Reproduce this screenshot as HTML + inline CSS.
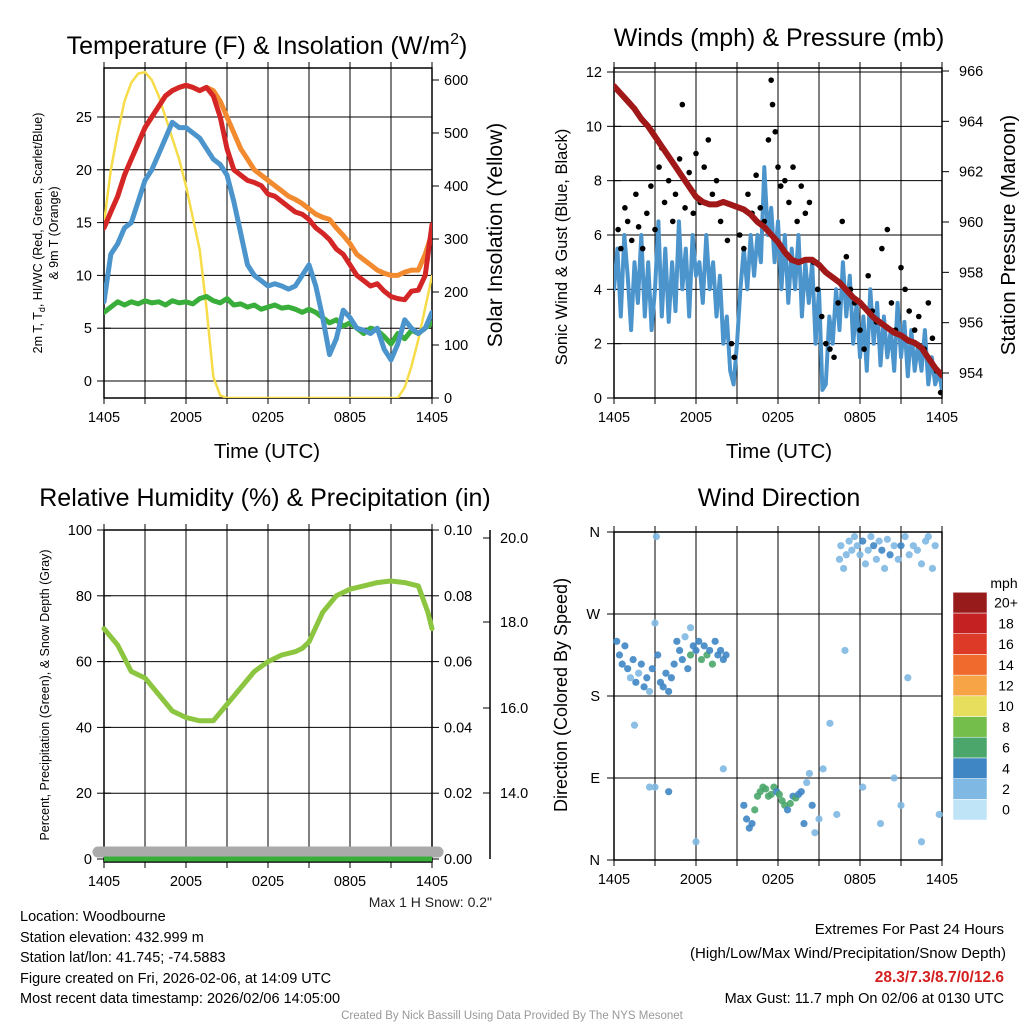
<!DOCTYPE html>
<html><head><meta charset="utf-8"><style>
html,body{margin:0;padding:0;background:#fff}
svg{display:block;font-family:"Liberation Sans",sans-serif}
</style></head><body>
<svg id="root" width="1024" height="1024" viewBox="0 0 1024 1024" xmlns="http://www.w3.org/2000/svg">
<rect width="1024" height="1024" fill="#fff"/>
<g id="g1"></g>
<g id="g2"></g>
<g id="g3"></g>
<g id="g4"></g>
<g font-size="25" text-anchor="middle" fill="#000">
<text x="267" y="54">Temperature (F) &amp; Insolation (W/m<tspan dy="-10" font-size="16">2</tspan><tspan dy="10">)</tspan></text>
<text x="779" y="46">Winds (mph) &amp; Pressure (mb)</text>
<text x="265" y="506">Relative Humidity (%) &amp; Precipitation (in)</text>
<text x="779" y="506">Wind Direction</text>
</g>
<g fill="#000">
<text x="267" y="458" font-size="20.5" text-anchor="middle">Time (UTC)</text>
<text x="779" y="458" font-size="20.5" text-anchor="middle">Time (UTC)</text>
<text transform="translate(42,233) rotate(-90)" font-size="12.5" text-anchor="middle">2m T, T<tspan dy="3" font-size="9">d</tspan><tspan dy="-3">, HI/WC (Red, Green, Scarlet/Blue)</tspan></text>
<text transform="translate(58,233) rotate(-90)" font-size="12.5" text-anchor="middle">&amp; 9m T (Orange)</text>
<text transform="translate(502,235) rotate(-90)" font-size="21" text-anchor="middle">Solar Insolation (Yellow)</text>
<text transform="translate(567,247) rotate(-90)" font-size="16.5" text-anchor="middle">Sonic Wind &amp; Gust (Blue, Black)</text>
<text transform="translate(1015,235) rotate(-90)" font-size="20.5" text-anchor="middle">Station Pressure (Maroon)</text>
<text transform="translate(49,695) rotate(-90)" font-size="12.5" text-anchor="middle">Percent, Precipitation (Green), &amp; Snow Depth (Gray)</text>
<text transform="translate(567,695) rotate(-90)" font-size="18" text-anchor="middle">Direction (Colored By Speed)</text>
<text x="492" y="907" font-size="14" text-anchor="end" fill="#222">Max 1 H Snow: 0.2"</text>
</g>
<g font-size="14.5" fill="#000">
<text x="20" y="921">Location: Woodbourne</text>
<text x="20" y="942">Station elevation: 432.999 m</text>
<text x="20" y="962">Station lat/lon: 41.745; -74.5883</text>
<text x="20" y="983">Figure created on Fri, 2026-02-06, at 14:09 UTC</text>
<text x="20" y="1003">Most recent data timestamp: 2026/02/06 14:05:00</text>
</g>
<g font-size="15" fill="#000" text-anchor="end">
<text x="1004" y="934">Extremes For Past 24 Hours</text>
<text x="1006" y="958">(High/Low/Max Wind/Precipitation/Snow Depth)</text>
<text x="1004" y="982" font-weight="bold" fill="#d42020" font-size="15.5">28.3/7.3/8.7/0/12.6</text>
<text x="1004" y="1003" font-size="14.5">Max Gust: 11.7 mph On 02/06 at 0130 UTC</text>
</g>
<text x="512" y="1019" font-size="11.5" fill="#999" text-anchor="middle">Created By Nick Bassill Using Data Provided By The NYS Mesonet</text>
</svg>
<script>
// ---------- data ----------
const timeTicks = ["1405","2005","0205","0805","1405"];
const tempHours = Array.from({length:49},(_,i)=>i*0.5);
const temp2m = [14.5,16,17.5,19.5,21,22.5,24,25,26,27,27.5,27.8,28,27.8,27.5,27.8,27,25,22,20,19.5,19,18.8,18.5,17.7,17.5,17,16.5,16,15.8,15.3,14.5,14,13.4,12.5,12,11,10,9.5,9,9.2,8.5,8,7.8,7.7,8.5,8.6,10,14.8];
const temp9m = [14.5,16,17.5,19.5,21,22.5,24,25,26,27,27.5,27.8,28,27.8,27.5,27.8,27.5,26.5,25,23.5,22,21,20,19.5,19,18.5,18,17.5,17.2,16.8,16.3,15.8,15.5,15.3,14.5,13.8,13,12,11.5,11,10.5,10.2,10,10,10.3,10.5,10.5,12,14];
const windChill = [7.5,12,13,14.5,15,17,19,20,21.5,23,24.5,24,24,23.5,23,22,21,20.5,19.5,17,14,11,10,9.5,9,9.2,9,8.7,9,10,11,9,6,2.5,4,6.7,6,5,4.8,4.5,5,3,2,3.5,5.8,5,4.5,5,6.5];
const dewPoint = [6.5,7,7.5,7.2,7.5,7.3,7.6,7.4,7.5,7.2,7.6,7.4,7.5,7.3,7.8,8,7.6,7.4,7.8,7.2,7.3,7,7.2,6.8,7,7.2,6.9,7,6.8,6.5,6.8,6.5,6,5.5,5.8,5.2,5.5,5,4.5,5,4.8,4.2,3.5,4.5,4,4.8,4.5,5,5.5];
const solar = [330,430,500,560,595,612,615,600,570,530,490,450,400,340,280,170,40,5,0,0,0,0,0,0,0,0,0,0,0,0,0,0,0,0,0,0,0,0,0,0,0,0,0,0,20,60,110,170,230];
const tempTicks = [0,5,10,15,20,25];
const solarTicks = [0,100,200,300,400,500,600];

const pressure = [965.4,965.1,964.8,964.5,964.1,963.8,963.4,963,962.6,962.2,961.8,961.4,961,960.8,960.7,960.7,960.8,960.7,960.6,960.5,960.3,960,959.8,959.5,959.2,958.8,958.5,958.4,958.5,958.5,958.3,958,957.8,957.6,957.3,957,956.8,956.5,956.2,956,955.8,955.6,955.5,955.3,955.2,955,954.6,954.2,953.9];
const windHours = Array.from({length:97},(_,i)=>i*0.25);
const windSpeed = [4,5.5,3,6,4.5,2.5,5,3.5,6, 3,5,2.5,4,6.5,3,5.5,2.8, 5,3.2,6.5,4,5.5,3,6,4.5, 5,3.5,6,4,5,3,4.5,2, 3,1,0.5,2,4,5.5,4,6, 4.5,6,5,8.5,6,7,5,6.5, 4,6,3.5,5.5,4,6,3,5, 3.5,5,2,4,0.3,0.5,3,2, 4,2.5,5,3,4.5,2,3.5,1.5, 3,1,4,2,3.5,1.2,3,1.5, 2.5,1,3.5,1.5,2.8,0.8,2.5,1, 2,1,2.5,0.5,1.5,0.5,1,0.3];
const gustHours = [0.3,0.5,0.8,1,1.3,1.6,1.8,2.1,2.4,2.7,3,3.3,3.5,3.7,4,4.3,4.5,4.8,5,5.2,5.5,5.8,6,6.3,6.6,6.9,7.2,7.5,7.8,8,8.3,8.6,8.8,9.2,9.5,9.8,10.1,10.4,10.7,11,11.3,11.5,11.6,11.8,12,12.2,12.5,12.8,13.1,13.4,13.7,14,14.3,14.6,14.9,15.2,15.5,15.8,16.1,16.4,16.7,17,17.3,17.6,18,18.3,18.6,18.9,19.2,19.6,20,20.3,20.6,21,21.3,21.6,22,22.3,22.7,23,23.3,23.6,23.9];
const gustValues = [6.2,5.5,7,6.5,5.8,7.5,6.3,5.5,6.8,7.8,6.2,8.5,9.2,7.2,8,6.5,7.5,8.8,10.8,7,8.3,6.8,9,7.2,8.5,9.5,7.5,8,6.5,7.2,5.8,2,1.5,6,5.5,7.5,6.8,8.2,7,6.5,9.5,11.7,10.8,9.8,8.5,7.8,8,7.2,8.5,6.5,7.8,6.8,7.2,5,4,3,2,1.8,1.5,3.5,6.5,5.2,4,3.5,2.5,1.8,4.5,3.2,2.8,5.5,6.2,3.5,2.5,4.8,4,3.2,2.5,3,1.8,3.5,2.2,1,0.2];
const windTicks = [0,2,4,6,8,10,12];
const pressTicks = [954,956,958,960,962,964,966];

const rh = [70,65,57,55,50,45,43,42,42,47,52,57,60,62,63,64,66,75,80,82,83,84,84.5,84,83,75,70];
const rhHours = [0,1,2,3,4,5,6,7,8,9,10,11,12,13,14,14.5,15,16,17,18,19,20,21,22,23,23.7,24];
const rhTicks = [0,20,40,60,80,100];
const precipTicks = ["0.00","0.02","0.04","0.06","0.08","0.10"];
const snowTicks = ["14.0","16.0","18.0","20.0"];

const dirHours = [0.2,0.4,0.6,0.8,1,1.2,1.4,1.6,1.8,2,2.2,2.4,2.6,2.8,3,3.2,3.4,3.6,3.8,4,4.2,4.4,4.6,4.8,5,5.2,5.4,5.6,5.8,6,6.2,6.4,6.6,6.8,7,7.2,7.4,7.6,7.8,8,8.2,3.1,2.6,4,6,3,1.5,5.6,8,9.5,9.7,9.9,10.1,10.3,10.5,10.7,10.9,11.1,11.3,11.5,11.7,11.9,12.1,12.3,12.5,12.7,12.9,13.1,13.3,13.5,13.7,13.9,14.1,14.3,14.5,14.7,15,15.3,15.8,16.3,16.5,16.6,16.8,17,17.2,17.4,17.6,17.8,18,18.2,18.4,18.6,18.8,19,19.2,19.4,19.6,19.8,20,20.2,20.5,20.8,21,21.3,21.6,21.9,22.2,22.5,22.8,23,23.3,23.5,19.5,21,22.5,23.8,16.9,21.5,18.2,20.5];
const dirDegrees = [240,225,215,235,210,200,220,195,205,215,190,200,185,210,260,225,195,190,205,185,200,215,240,230,220,245,210,225,235,230,240,220,235,225,230,215,240,225,230,220,225,355,80,75,20,80,148,255,100,60,45,35,40,55,70,75,80,78,70,72,80,75,72,65,60,55,62,70,68,72,75,40,85,95,60,30,45,100,150,50,330,345,320,335,350,340,355,345,335,350,325,340,355,345,330,350,340,320,352,335,345,330,345,355,335,345,340,325,350,355,320,345,40,60,20,50,230,200,80,90];
const dirSpeeds = [4,4,3,4,3,2,4,3,2,3,4,3,2,4,2,3,4,4,3,3,4,4,3,4,4,2,4,5,4,3,4,6,4,6,4,5,3,4,4,3,4,1,2,3,2,2,1,2,2,3,4,3,4,5,6,6,5,6,5,6,5,4,5,6,5,4,5,4,5,4,4,3,2,2,3,2,2,2,1,1,2,1,1,2,1,2,1,2,2,3,2,2,2,3,2,2,3,2,2,3,2,2,3,2,2,2,2,1,2,1,1,2,1,2,1,1,1,1,2,2];
const dirLabels = ["N","E","S","W","N"];
const speedLabels = ["0","2","4","6","8","10","12","14","16","18","20+"];
const speedColors = ["#bfe4f7","#7fb8e2","#3f86c4","#4aa66a","#74bf4c","#e6de5c","#f7a446","#ef6a2c","#de3a28","#c42222","#981b1c"];

// ---------- helpers ----------
const NS="http://www.w3.org/2000/svg";
function mk(parent,tag,attrs,text){const e=document.createElementNS(NS,tag);for(const k in attrs)e.setAttribute(k,attrs[k]);if(text!==undefined)e.textContent=text;parent.appendChild(e);return e;}
function lin(d0,d1,r0,r1){return v=>r0+(v-d0)*(r1-r0)/(d1-d0);}
function frame(g,x0,x1,y0,y1,name){
  for(let i=0;i<=8;i++){const x=x0+i*(x1-x0)/8;
    const l=mk(g,'line',{x1:x,x2:x,y1:y0-6,y2:y1+6,stroke:'#000','stroke-width':1});
    
    }
  timeTicks.forEach((t,i)=>{const x=x0+i*(x1-x0)/4;
    const tx=mk(g,'text',{x:x,y:y1+24,'font-size':14.5,'text-anchor':'middle'},t);
    
    });
  const r=mk(g,'rect',{x:x0,y:y0,width:x1-x0,height:y1-y0,fill:'none',stroke:'#000','stroke-width':1.5});
  
  
}
function hgrid(g,x0,x1,y,name){const l=mk(g,'line',{x1:x0-7,x2:x1+7,y1:y,y2:y,stroke:'#000','stroke-width':1});
  
  }
function ylab(g,x,y,t,anchor,name){const e=mk(g,'text',{x:x,y:y+5,'font-size':14.5,'text-anchor':anchor},t);
  
  }
function path(g,xs,ys,xf,yf,color,w,name){
  const d=xs.map((h,i)=>(i?'L':'M')+xf(h).toFixed(1)+','+yf(ys[i]).toFixed(1)).join('');
  const p=mk(g,'path',{d:d,fill:'none',stroke:color,'stroke-width':w,'stroke-linejoin':'round','stroke-linecap':'round'});
  
  }

// ---------- panel 1 ----------
(function(){const g=document.getElementById('g1');const X0=104,X1=432,Y0=68,Y1=398;
 const x=lin(0,24,X0,X1), yT=lin(0,25,381,117), yS=lin(0,600,398,80);
 tempTicks.forEach(v=>{hgrid(g,X0,X0,yT(v),'temp-tick');const l=mk(g,'line',{x1:X0,x2:X1,y1:yT(v),y2:yT(v),stroke:'#000'});ylab(g,X0-12,yT(v),String(v),'end','temp-tick-label');});
 solarTicks.forEach(v=>{const l=mk(g,'line',{x1:X1,x2:X1+7,y1:yS(v),y2:yS(v),stroke:'#000'});ylab(g,X1+12,yS(v),String(v),'start','solar-tick-label');});
 frame(g,X0,X1,Y0,Y1,'temperature');
 const cp=mk(g,'clipPath',{id:'c1'});mk(cp,'rect',{x:X0,y:Y0,width:X1-X0,height:Y1-Y0});
 const gg=mk(g,'g',{'clip-path':'url(#c1)'});
 path(gg,tempHours,solar,x,yS,'#f7dc4a',2.5,'solar-line');
 path(gg,tempHours,dewPoint,x,yT,'#3aae3a',5,'dewpoint-line');
 path(gg,tempHours,windChill,x,yT,'#4b94cc',5,'windchill-line');
 path(gg,tempHours,temp9m,x,yT,'#f28a30',5,'temp-9m-line');
 path(gg,tempHours,temp2m,x,yT,'#d42626',5,'temp-2m-line');
})();

// ---------- panel 2 ----------
(function(){const g=document.getElementById('g2');const X0=614,X1=942,Y0=68,Y1=398;
 const x=lin(0,24,X0,X1), yW=lin(0,12,398,72), yP=lin(954,966,373,71);
 windTicks.forEach(v=>{hgrid(g,X0,X0,yW(v),'wind-tick');const l=mk(g,'line',{x1:X0,x2:X1,y1:yW(v),y2:yW(v),stroke:'#000'});ylab(g,X0-12,yW(v),String(v),'end','wind-tick-label');});
 pressTicks.forEach(v=>{const l=mk(g,'line',{x1:X1,x2:X1+7,y1:yP(v),y2:yP(v),stroke:'#000'});ylab(g,X1+17,yP(v),String(v),'start','pressure-tick-label');});
 frame(g,X0,X1,Y0,Y1,'wind');
 const cp=mk(g,'clipPath',{id:'c2'});mk(cp,'rect',{x:X0,y:Y0,width:X1-X0,height:Y1-Y0});
 const gg=mk(g,'g',{'clip-path':'url(#c2)'});
 path(gg,windHours,windSpeed,x,yW,'#4b94cc',4,'wind-speed-line');
 gustHours.forEach((h,i)=>{const c=mk(gg,'circle',{cx:x(h),cy:yW(gustValues[i]),r:2.8,fill:'#000'});
   
   });
 path(gg,tempHours,pressure,x,yP,'#a01818',6,'pressure-line');
})();

// ---------- panel 3 ----------
(function(){const g=document.getElementById('g3');const X0=104,X1=432,Y0=530,Y1=862;
 const x=lin(0,24,X0,X1), y=lin(0,100,859,530);
 rhTicks.forEach(v=>{hgrid(g,X0,X0,y(v),'rh-tick');const l=mk(g,'line',{x1:X0,x2:X1,y1:y(v),y2:y(v),stroke:'#000'});ylab(g,X0-12,y(v),String(v),'end','rh-tick-label');});
 precipTicks.forEach((t,i)=>{const v=i*20;const l=mk(g,'line',{x1:X1,x2:X1+7,y1:y(v),y2:y(v),stroke:'#000'});ylab(g,X1+12,y(v),t,'start','precip-tick-label');});
 const ax=mk(g,'line',{x1:490,x2:490,y1:530,y2:859,stroke:'#000','stroke-width':1.5});
 const sy=[793,708,622,538];
 snowTicks.forEach((t,i)=>{const l=mk(g,'line',{x1:483,x2:490,y1:sy[i],y2:sy[i],stroke:'#000'});ylab(g,500,sy[i],t,'start','snow-tick-label');});
 frame(g,X0,X1,Y0,Y1,'humidity');
 const gray=mk(g,'line',{x1:X0-6,x2:X1+6,y1:852,y2:852,stroke:'#aaa','stroke-width':11,'stroke-linecap':'round'});
 const pr=mk(g,'line',{x1:X0,x2:X1,y1:859,y2:859,stroke:'#3aae3a','stroke-width':5});
 path(g,rhHours,rh,x,y,'#8cc640',5,'rh-line');
})();

// ---------- panel 4 ----------
(function(){const g=document.getElementById('g4');const X0=614,X1=942,Y0=532,Y1=860;
 const x=lin(0,24,X0,X1), y=lin(0,360,860,532);
 dirLabels.forEach((t,i)=>{const v=i*90;hgrid(g,X0,X0,y(v),'dir-tick');const l=mk(g,'line',{x1:X0,x2:X1,y1:y(v),y2:y(v),stroke:'#000'});ylab(g,X0-14,y(v),t,'end','dir-tick-label');});
 frame(g,X0,X1,Y0,Y1,'direction');
 dirHours.forEach((h,i)=>{
   const c=mk(g,'circle',{cx:x(h),cy:y(dirDegrees[i]),r:3.6,fill:speedColors[Math.min(10,Math.round(dirSpeeds[i]/2))],opacity:0.9});
   
   });
 const cb=mk(g,'g',{});
 const bh=20.7;
 speedLabels.forEach((t,i)=>{const yy=820-(i+1)*bh;
   const r=mk(cb,'rect',{x:953,y:yy,width:34,height:bh,fill:speedColors[i],stroke:'#fff','stroke-width':0.5});
   
   
   const tx=mk(cb,'text',{x:1006,y:yy+bh/2+5,'font-size':14,'text-anchor':'middle'},t);
   
   });
 const u=mk(cb,'text',{x:1004,y:588,'font-size':14,'text-anchor':'middle'},'mph');
 
 
})();
</script>
</body></html>
